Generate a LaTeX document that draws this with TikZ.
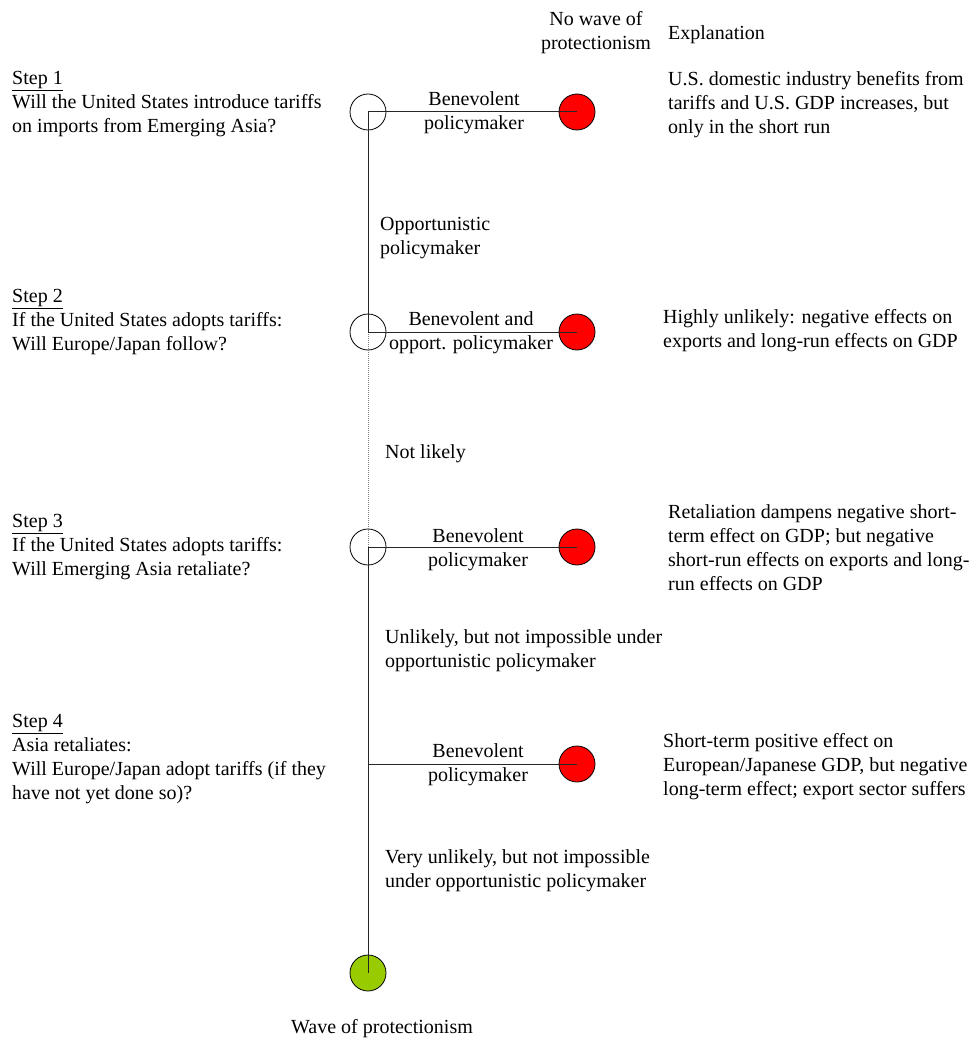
\documentclass[tikz,border=0pt]{standalone}
\usepackage{fontspec}
\setmainfont{Liberation Serif}
\definecolor{redball}{RGB}{255,0,0}
\definecolor{greenball}{RGB}{153,204,0}
\begin{document}
\begin{tikzpicture}[x=1pt,y=-1pt,
  every node/.style={font=\fontsize{20}{24}\selectfont},
  txt/.style={inner sep=0pt,align=left,anchor=north west},
  ctxt/.style={inner sep=0pt,align=center,anchor=north},
  ball/.style={circle,draw=black,line width=0.8pt,minimum size=36pt,inner sep=0pt},
  conn/.style={line width=1pt,black!85},
  dotconn/.style={line width=1pt,gray,dash pattern=on 1pt off 1pt}]
\useasboundingbox (0,0) rectangle (975,1040);
% circles
\node[ball] (w1) at (368,112) {};
\node[ball] (w2) at (368,332) {};
\node[ball] (w3) at (368,547) {};
\coordinate (b4) at (368,764);
\node[ball,fill=redball] (r1) at (577,112) {};
\node[ball,fill=redball] (r2) at (577,332) {};
\node[ball,fill=redball] (r3) at (577,547) {};
\node[ball,fill=redball] (r4) at (577,764) {};
\node[ball,fill=greenball] (g) at (368,973) {};
% connectors
\draw[conn] (w1.center) -- (w2.center);
\draw[dotconn] (w2.center) -- (w3.center);
\draw[conn] (w3.center) -- (g.center);
\draw[conn] (w1.center) -- (r1.center);
\draw[conn] (w2.center) -- (r2.center);
\draw[conn] (w3.center) -- (r3.center);
\draw[conn] (b4) -- (r4.center);
% headers
\node[ctxt] (hnw) at (596,11) {No wave of\\protectionism};
\node[txt] (hex) at (668,25) {Explanation};
% steps
\node[txt] (s1) at (12,71) {\underline{Step 1}\\Will the United States introduce tariffs\\on imports from Emerging Asia?};
\node[txt] (s2) at (12,289) {\underline{Step 2}\\If the United States adopts tariffs:\\Will Europe/Japan follow?};
\node[txt] (s3) at (12,514) {\underline{Step 3}\\If the United States adopts tariffs:\\Will Emerging Asia retaliate?};
\node[txt] (s4) at (12,714) {\underline{Step 4}\\Asia retaliates:\\Will Europe/Japan adopt tariffs (if they\\have not yet done so)?};
% branch labels
\node[ctxt] (l1) at (474,91) {Benevolent\\policymaker};
\node[ctxt] (l2) at (471,311) {Benevolent and\\opport. policymaker};
\node[ctxt] (l3) at (478,528) {Benevolent\\policymaker};
\node[ctxt] (l4) at (478,743) {Benevolent\\policymaker};
% vertical labels
\node[txt] (v1) at (380,217) {Opportunistic\\policymaker};
\node[txt] (v2) at (385,444) {Not likely};
\node[txt] (v3) at (385,629) {Unlikely, but not impossible under\\opportunistic policymaker};
\node[txt] (v4) at (385,849) {Very unlikely, but not impossible\\under opportunistic policymaker};
% explanations
\node[txt] (e1) at (668,71) {U.S. domestic industry benefits from\\tariffs and U.S. GDP increases, but\\only in the short run};
\node[txt] (e2) at (663,309) {Highly unlikely: negative effects on\\exports and long-run effects on GDP};
\node[txt] (e3) at (668,504) {Retaliation dampens negative short-\\term effect on GDP; but negative\\short-run effects on exports and long-\\run effects on GDP};
\node[txt] (e4) at (663,733) {Short-term positive effect on\\European/Japanese GDP, but negative\\long-term effect; export sector suffers};
% bottom
\node[ctxt] (wave) at (382,1019) {Wave of protectionism};
\end{tikzpicture}
\end{document}
